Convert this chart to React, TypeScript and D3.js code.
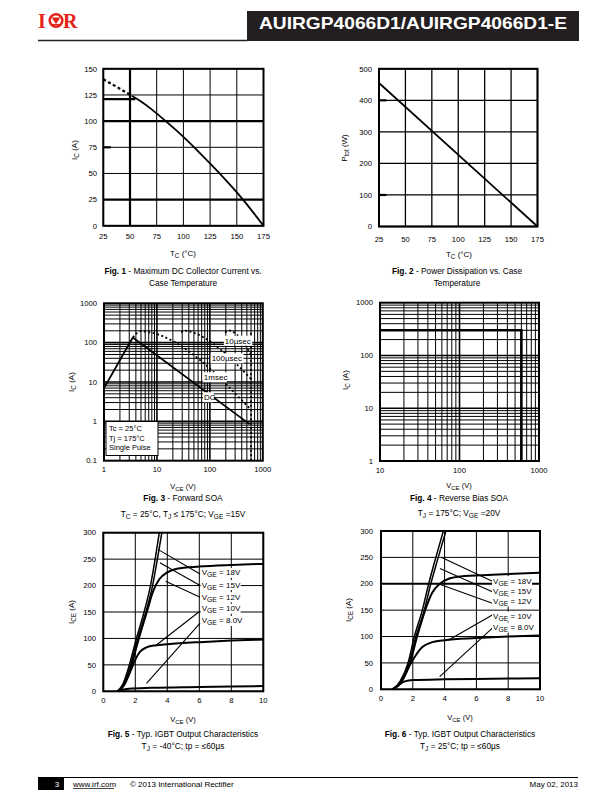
import React from "react";
import * as d3 from "d3";

const FONT = "'Liberation Sans', Arial, Helvetica, sans-serif";
const RED = "#e3241b";

// ---------------- Fig 1 data ----------------
const fig1XTicks = [25, 50, 75, 100, 125, 150, 175];
const fig1YTicks = [0, 25, 50, 75, 100, 125, 150];
const fig1ThickX = [50];
const fig1ThickY = [25, 100];
const fig1DashT = [25, 38, 52];
const fig1DashI = [140, 132.5, 124];
const fig1SolidT = [52, 60, 70, 84, 100, 115, 133, 155, 175];
const fig1SolidI = [124, 119, 111.5, 99.5, 85, 70, 51, 26, 0];
const fig1LimitT = [25, 55];
const fig1LimitI = [121, 121];
const fig1StubT = [25, 32];
const fig1StubI = [75, 75];

// ---------------- Fig 2 data ----------------
const fig2XTicks = [25, 50, 75, 100, 125, 150, 175];
const fig2YTicks = [0, 100, 200, 300, 400, 500];
const fig2T = [25, 175];
const fig2P = [455, 0];
const fig2StubT = [25, 32];
const fig2StubP = [400, 100];

// ---------------- Fig 3 data ----------------
const fig3XTickVals = [1, 10, 100, 1000];
const fig3XTickLabels = ["1", "10", "100", "1000"];
const fig3YTickVals = [0.1, 1, 10, 100, 1000];
const fig3YTickLabels = ["0.1", "1", "10", "100", "1000"];
const fig3RiseV = [1, 3.5];
const fig3RiseI = [7, 135];
const fig3DcV = [3.5, 560];
const fig3DcI = [135, 0.85];
const fig3Ms1V = [3.5, 4.2, 5, 6.5, 600];
const fig3Ms1I = [135, 175, 196, 188, 1.95];
const fig3Us100V = [29, 33, 38, 600];
const fig3Us100I = [180, 205, 198, 12];
const fig3Us10V = [195, 225, 260, 600];
const fig3Us10I = [180, 205, 195, 50];
const fig3EdgeV = [600, 600];
const fig3EdgeI = [0.1, 200];
const fig3Labels = ["10µsec", "100µsec", "1msec", "DC"];
const fig3LabelV = [192, 108, 77, 77.5];
const fig3LabelI = [112, 40, 13.2, 4.1];
const fig3Legend = ["Tc = 25°C", "Tj = 175°C", "Single Pulse"];

// ---------------- Fig 4 data ----------------
const fig4XTickVals = [10, 100, 1000];
const fig4XTickLabels = ["10", "100", "1000"];
const fig4YTickVals = [1, 10, 100, 1000];
const fig4YTickLabels = ["1", "10", "100", "1000"];
const fig4V = [10, 600, 600];
const fig4I = [300, 300, 1];

// ---------------- Fig 5 data ----------------
const outXTicks = [0, 2, 4, 6, 8, 10];
const outYTicks = [0, 50, 100, 150, 200, 250, 300];
const vgeLabels = ["18V", "15V", "12V", "10V", "8.0V"];

const fig5V18 = [0.85, 1.2, 1.58, 2.07, 2.55, 2.95, 3.24, 3.5];
const fig5I18 = [0, 12, 45, 100, 150, 200, 250, 300];
const fig5V15 = [0.87, 1.25, 1.66, 2.16, 2.66, 3.08, 3.38, 3.66];
const fig5I15 = [0, 12, 45, 100, 150, 200, 250, 300];
const fig5V12 = [0.9, 1.3, 1.72, 2.22, 2.72, 3.12, 3.5, 4.0, 4.6, 6, 8, 10];
const fig5I12 = [0, 12, 45, 100, 150, 190, 212, 225, 232, 236, 239, 241];
const fig5V10 = [0.9, 1.3, 1.7, 2.0, 2.3, 2.7, 3.3, 4, 6, 8, 10];
const fig5I10 = [0, 12, 38, 60, 75, 83, 87, 89, 93, 96, 98];
const fig5V8 = [0.95, 1.2, 1.6, 3, 6, 10];
const fig5I8 = [0, 3, 5, 6.5, 8, 10];
const fig5LeadV0 = [3.44, 3.54, 3.9, 3.3, 2.7];
const fig5LeadI0 = [268, 243, 208, 87, 15];
const fig5LeadV1 = [6.05, 6.05, 6.05, 6.05, 6.05];
const fig5LeadI1 = [222, 200, 178, 152, 129];
const fig5LabelV = [6.15, 6.15, 6.15, 6.15, 6.15];
const fig5LabelI = [224, 201, 178, 156, 133];

// ---------------- Fig 6 data ----------------
const fig6V18 = [0.75, 1.2, 1.7, 2.1, 2.6, 3.0, 3.45, 3.92];
const fig6I18 = [0, 15, 50, 100, 150, 200, 250, 300];
const fig6V15 = [0.77, 1.25, 1.77, 2.2, 2.72, 3.13, 3.6, 4.08];
const fig6I15 = [0, 15, 50, 100, 150, 200, 250, 300];
const fig6V12 = [0.8, 1.3, 1.82, 2.27, 2.78, 3.2, 3.7, 4.3, 5, 7, 10];
const fig6I12 = [0, 15, 50, 100, 150, 182, 200, 210, 214, 217, 221];
const fig6V10 = [0.8, 1.3, 1.8, 2.2, 2.6, 3.1, 4, 6, 8, 10];
const fig6I10 = [0, 15, 45, 65, 80, 88, 93, 97, 100, 102];
const fig6V8 = [0.7, 1.1, 1.5, 2, 4, 7, 10];
const fig6I8 = [0, 8, 15, 17.5, 19, 20, 21];
const fig6ThickY = [200];
const fig6LeadV0 = [3.82, 3.71, 3.6, 4.23, 3.69];
const fig6LeadI0 = [250, 229, 200, 93, 24];
const fig6LeadV1 = [7.0, 7.0, 7.0, 7.0, 7.0];
const fig6LeadI1 = [205, 185, 163, 141, 116];
const fig6LabelV = [7.05, 7.05, 7.05, 7.05, 7.05];
const fig6LabelI = [205, 186, 166, 138, 117];

const curveWidths = [1.5, 1.5, 2, 2, 2];

const zip = (a: number[], b: number[]) => a.map((v, i) => [v, b[i]] as [number, number]);

type Sc = (v: number) => number;

function pathOf(xs: number[], ys: number[], x: Sc, y: Sc, curve: any = d3.curveLinear) {
  return d3
    .line<[number, number]>()
    .x((d) => x(d[0]))
    .y((d) => y(d[1]))
    .curve(curve)(zip(xs, ys)) as string;
}

function SubText(props: {
  x: number; y: number; base: string; sub: string; rest: string;
  size?: number; anchor?: string; rotate?: boolean;
}) {
  const size = props.size ?? 8;
  const tr = props.rotate ? `rotate(-90 ${props.x} ${props.y})` : undefined;
  return (
    <text x={props.x} y={props.y} fontSize={size} fontFamily={FONT}
      textAnchor={props.anchor ?? "middle"} transform={tr} fill="#000">
      {props.base}
      <tspan dy={size * 0.3} fontSize={size * 0.8}>{props.sub}</tspan>
      <tspan dy={-size * 0.3}>{props.rest}</tspan>
    </text>
  );
}

function Caption({ cx, y, bold, text }: { cx: number; y: number; bold?: string; text: string }) {
  return (
    <text x={cx} y={y} fontSize={8.3} fontFamily={FONT} textAnchor="middle">
      {bold ? <tspan fontWeight="bold">{bold}</tspan> : null}
      {text}
    </text>
  );
}

function LinearGrid({ x, y, xTicks, yTicks, thickX = [], thickY = [], gw = 1 }: any) {
  const [x0, x1] = x.range();
  const [y0, y1] = y.range();
  return (
    <g>
      {xTicks.map((t: number) => (
        <line key={"vx" + t} x1={x(t)} x2={x(t)} y1={y0} y2={y1} stroke="#000"
          strokeWidth={thickX.includes(t) ? 2.2 : gw} />
      ))}
      {yTicks.map((t: number) => (
        <line key={"hy" + t} x1={x0} x2={x1} y1={y(t)} y2={y(t)} stroke="#000"
          strokeWidth={thickY.includes(t) ? 2.2 : gw} />
      ))}
    </g>
  );
}

function Border({ x, y }: any) {
  const [x0, x1] = x.range();
  const [y0, y1] = y.range();
  return <rect x={x0} y={y1} width={x1 - x0} height={y0 - y1} fill="none" stroke="#000" strokeWidth={2} />;
}

function LinearTicks({ x, y, xTicks, yTicks, xLabY, yLabX }: any) {
  return (
    <g fontFamily={FONT} fontSize={7.7}>
      {xTicks.map((t: number) => (
        <text key={"xl" + t} x={x(t)} y={xLabY} textAnchor="middle">{t}</text>
      ))}
      {yTicks.map((t: number) => (
        <text key={"yl" + t} x={yLabX} y={y(t) + 2.7} textAnchor="end">{t}</text>
      ))}
    </g>
  );
}

function LogGrid({ x, y }: any) {
  const [x0, x1] = x.range();
  const [y0, y1] = y.range();
  const xd = x.domain();
  const yd = y.domain();
  const lines: any[] = [];
  for (let d = xd[0]; d < xd[1] - 1e-9; d *= 10) {
    for (let m = 1; m <= 9; m++) {
      const v = d * m;
      if (v <= xd[0] || v >= xd[1]) continue;
      lines.push(<line key={"lx" + v} x1={x(v)} x2={x(v)} y1={y0} y2={y1} stroke="#000" strokeWidth={m === 1 ? 1.6 : 1} />);
    }
  }
  for (let d = yd[0]; d < yd[1] - 1e-9; d *= 10) {
    for (let m = 1; m <= 9; m++) {
      const v = d * m;
      if (v <= yd[0] * 1.0001 || v >= yd[1] * 0.9999) continue;
      lines.push(<line key={"ly" + v} x1={x0} x2={x1} y1={y(v)} y2={y(v)} stroke="#000" strokeWidth={m === 1 ? 1.6 : 1} />);
    }
  }
  return <g>{lines}</g>;
}

function VgeLabel({ x, y, val }: { x: number; y: number; val: string }) {
  const w = 40;
  return (
    <g>
      <rect x={x - 1} y={y - 5} width={w} height={10} fill="#fff" />
      <text x={x} y={y + 2.5} fontSize={8} fontFamily={FONT}>
        V<tspan dy={2} fontSize={6.8}>GE</tspan>
        <tspan dy={-2}>{" = " + val}</tspan>
      </text>
    </g>
  );
}

function OutputChart(props: any) {
  const { x, y, curves, leadV0, leadI0, leadV1, leadI1, labV, labI, thickY = [] } = props;
  return (
    <g>
      <LinearGrid x={x} y={y} xTicks={outXTicks} yTicks={outYTicks} thickY={thickY} />
      {curves.map((c: any, i: number) => (
        <path key={"c" + i} d={pathOf(c[0], c[1], x, y, d3.curveMonotoneX)} fill="none" stroke="#000"
          strokeWidth={curveWidths[i]} />
      ))}
      {leadV0.map((v: number, i: number) => (
        <line key={"ld" + i} x1={x(v)} y1={y(leadI0[i])} x2={x(leadV1[i])} y2={y(leadI1[i])} stroke="#000" strokeWidth={1.1} />
      ))}
      {labV.map((v: number, i: number) => (
        <VgeLabel key={"lb" + i} x={x(v)} y={y(labI[i])} val={vgeLabels[i]} />
      ))}
      <Border x={x} y={y} />
    </g>
  );
}

export default function App() {
  const x1 = d3.scaleLinear().domain([25, 175]).range([103.3, 263.5]);
  const y1 = d3.scaleLinear().domain([0, 150]).range([225.8, 68.8]);
  const x2 = d3.scaleLinear().domain([25, 175]).range([379, 537.5]);
  const y2 = d3.scaleLinear().domain([0, 500]).range([226.5, 68.8]);
  const x3 = d3.scaleLog().domain([1, 1000]).range([104, 262.8]);
  const y3 = d3.scaleLog().domain([0.1, 1000]).range([460.7, 303.3]);
  const x4 = d3.scaleLog().domain([10, 1000]).range([380, 539]);
  const y4 = d3.scaleLog().domain([1, 1000]).range([461, 302.7]);
  const x5 = d3.scaleLinear().domain([0, 10]).range([103.3, 263.3]);
  const y5 = d3.scaleLinear().domain([0, 300]).range([691.3, 532.7]);
  const x6 = d3.scaleLinear().domain([0, 10]).range([381, 540]);
  const y6 = d3.scaleLinear().domain([0, 300]).range([689.3, 531]);

  const dotted = { fill: "none", stroke: "#000", strokeWidth: 1.8, strokeDasharray: "2 2.5" };

  return (
    <svg width={612} height={792} style={{ position: "absolute", left: 0, top: 0, background: "#fff" }}
      xmlns="http://www.w3.org/2000/svg">
      <rect width={612} height={792} fill="#fff" />

      {/* Header */}
      <g>
        <text x={38} y={28} fontFamily="'Liberation Serif', 'DejaVu Serif', serif" fontWeight="bold" fontSize={20} fill={RED}>I</text>
        <circle cx={56} cy={20.5} r={6.3} fill="none" stroke={RED} strokeWidth={2.6} />
        <path d="M51.5 17.5 L60.5 17.5 L56 24 Z" fill={RED} />
        <line x1={51.5} x2={60.5} y1={24.5} y2={24.5} stroke={RED} strokeWidth={1.2} />
        <text x={63} y={28} fontFamily="'Liberation Serif', 'DejaVu Serif', serif" fontWeight="bold" fontSize={20} fill={RED}>R</text>
        <line x1={38} x2={247} y1={40.5} y2={40.5} stroke="#222" strokeWidth={1.6} />
        <rect x={247} y={11} width={332} height={30} fill="#231f20" />
        <text x={413} y={29} fill="#fff" fontFamily={FONT} fontWeight="bold" fontSize={17} textAnchor="middle"
          textLength={308} lengthAdjust="spacingAndGlyphs">AUIRGP4066D1/AUIRGP4066D1-E</text>
      </g>

      {/* ---------- Fig 1 ---------- */}
      <g>
        <LinearGrid x={x1} y={y1} xTicks={fig1XTicks} yTicks={fig1YTicks} thickX={fig1ThickX} thickY={fig1ThickY} />
        <path d={pathOf(fig1LimitT, fig1LimitI, x1, y1)} fill="none" stroke="#000" strokeWidth={2.2} />
        <path d={pathOf(fig1StubT, fig1StubI, x1, y1)} fill="none" stroke="#000" strokeWidth={2.2} />
        <path d={pathOf(fig1DashT, fig1DashI, x1, y1)} fill="none" stroke="#000" strokeWidth={2.2} strokeDasharray="3 2.5" />
        <path d={pathOf(fig1SolidT, fig1SolidI, x1, y1, d3.curveMonotoneX)} fill="none" stroke="#000" strokeWidth={1.8} />
        <Border x={x1} y={y1} />
        <LinearTicks x={x1} y={y1} xTicks={fig1XTicks} yTicks={fig1YTicks} xLabY={239} yLabX={97} />
        <SubText x={77} y={150} base="I" sub="C" rest=" (A)" rotate size={8} />
        <SubText x={183} y={256} base="T" sub="C" rest=" (°C)" size={8} />
        <Caption cx={183} y={274} bold="Fig. 1" text=" - Maximum DC Collector Current vs." />
        <Caption cx={183} y={286} text="Case Temperature" />
      </g>

      {/* ---------- Fig 2 ---------- */}
      <g>
        <LinearGrid x={x2} y={y2} xTicks={fig2XTicks} yTicks={fig2YTicks} gw={1.3} />
        {fig2StubP.map((p) => (
          <path key={"s" + p} d={pathOf(fig2StubT, [p, p], x2, y2)} fill="none" stroke="#000" strokeWidth={2.2} />
        ))}
        <path d={pathOf(fig2T, fig2P, x2, y2)} fill="none" stroke="#000" strokeWidth={1.8} />
        <Border x={x2} y={y2} />
        <LinearTicks x={x2} y={y2} xTicks={fig2XTicks} yTicks={fig2YTicks} xLabY={242} yLabX={372} />
        <SubText x={347} y={148} base="P" sub="tot" rest=" (W)" rotate size={8} />
        <SubText x={459} y={257} base="T" sub="C" rest=" (°C)" size={8} />
        <Caption cx={457} y={274} bold="Fig. 2" text=" - Power  Dissipation vs. Case" />
        <Caption cx={457} y={286} text="Temperature" />
      </g>

      {/* ---------- Fig 3 ---------- */}
      <g>
        <LogGrid x={x3} y={y3} />
        <path d={pathOf(fig3RiseV, fig3RiseI, x3, y3)} fill="none" stroke="#000" strokeWidth={1.8} />
        <path d={pathOf(fig3DcV, fig3DcI, x3, y3)} fill="none" stroke="#000" strokeWidth={1.8} />
        <path d={pathOf(fig3Ms1V, fig3Ms1I, x3, y3, d3.curveMonotoneX)} {...dotted} />
        <path d={pathOf(fig3Us100V, fig3Us100I, x3, y3, d3.curveMonotoneX)} {...dotted} />
        <path d={pathOf(fig3Us10V, fig3Us10I, x3, y3, d3.curveMonotoneX)} {...dotted} />
        <path d={pathOf(fig3EdgeV, fig3EdgeI, x3, y3)} {...dotted} />
        {fig3Labels.map((l, i) => {
          const w = l.length * 4.4 + 2;
          return (
            <g key={l}>
              <rect x={x3(fig3LabelV[i]) - 1} y={y3(fig3LabelI[i]) - 5} width={w} height={10} fill="#fff" />
              <text x={x3(fig3LabelV[i])} y={y3(fig3LabelI[i]) + 3} fontSize={8} fontFamily={FONT}>{l}</text>
            </g>
          );
        })}
        <rect x={106} y={421.5} width={52} height={34} fill="#fff" stroke="#000" strokeWidth={1} />
        {fig3Legend.map((l, i) => (
          <text key={l} x={109} y={431 + i * 9.5} fontSize={7.5} fontFamily={FONT}>{l}</text>
        ))}
        <rect x={104} y={303.3} width={158.8} height={157.4} fill="none" stroke="#000" strokeWidth={2} />
        <g fontFamily={FONT} fontSize={7.7}>
          {fig3XTickVals.map((v, i) => (
            <text key={"x" + v} x={x3(v)} y={472} textAnchor="middle">{fig3XTickLabels[i]}</text>
          ))}
          {fig3YTickVals.map((v, i) => (
            <text key={"y" + v} x={97} y={y3(v) + 2.7} textAnchor="end">{fig3YTickLabels[i]}</text>
          ))}
        </g>
        <SubText x={74} y={382} base="I" sub="C" rest=" (A)" rotate size={8} />
        <SubText x={183} y={489} base="V" sub="CE" rest=" (V)" size={7.5} />
        <Caption cx={183} y={501} bold="Fig. 3" text=" - Forward SOA" />
        <text x={183} y={517} fontSize={8.3} fontFamily={FONT} textAnchor="middle">
          T<tspan dy={2} fontSize={6.6}>C</tspan><tspan dy={-2}>{" = 25°C, T"}</tspan>
          <tspan dy={2} fontSize={6.6}>J</tspan><tspan dy={-2}>{" ≤ 175°C; V"}</tspan>
          <tspan dy={2} fontSize={6.6}>GE</tspan><tspan dy={-2}>{" =15V"}</tspan>
        </text>
      </g>

      {/* ---------- Fig 4 ---------- */}
      <g>
        <LogGrid x={x4} y={y4} />
        <path d={pathOf(fig4V, fig4I, x4, y4)} fill="none" stroke="#000" strokeWidth={2.6} />
        <rect x={380} y={302.7} width={159} height={158.3} fill="none" stroke="#000" strokeWidth={2} />
        <g fontFamily={FONT} fontSize={7.7}>
          {fig4XTickVals.map((v, i) => (
            <text key={"x" + v} x={x4(v)} y={473} textAnchor="middle">{fig4XTickLabels[i]}</text>
          ))}
          {fig4YTickVals.map((v, i) => (
            <text key={"y" + v} x={373} y={y4(v) + 2.7} textAnchor="end">{fig4YTickLabels[i]}</text>
          ))}
        </g>
        <SubText x={348} y={380} base="I" sub="C" rest=" (A)" rotate size={8} />
        <SubText x={459} y={488} base="V" sub="CE" rest=" (V)" size={7.5} />
        <Caption cx={459} y={501} bold="Fig. 4" text=" - Reverse Bias SOA" />
        <text x={459} y={516} fontSize={8.3} fontFamily={FONT} textAnchor="middle">
          T<tspan dy={2} fontSize={6.6}>J</tspan><tspan dy={-2}>{" = 175°C; V"}</tspan>
          <tspan dy={2} fontSize={6.6}>GE</tspan><tspan dy={-2}>{" =20V"}</tspan>
        </text>
      </g>

      {/* ---------- Fig 5 ---------- */}
      <g>
        <OutputChart x={x5} y={y5}
          curves={[[fig5V18, fig5I18], [fig5V15, fig5I15], [fig5V12, fig5I12], [fig5V10, fig5I10], [fig5V8, fig5I8]]}
          leadV0={fig5LeadV0} leadI0={fig5LeadI0} leadV1={fig5LeadV1} leadI1={fig5LeadI1}
          labV={fig5LabelV} labI={fig5LabelI} />
        <LinearTicks x={x5} y={y5} xTicks={outXTicks} yTicks={outYTicks} xLabY={703} yLabX={96} />
        <SubText x={74} y={612} base="I" sub="CE" rest=" (A)" rotate size={8} />
        <SubText x={183} y={722} base="V" sub="CE" rest=" (V)" size={7.5} />
        <Caption cx={183} y={737} bold="Fig. 5" text=" - Typ. IGBT Output Characteristics" />
        <text x={183} y={749} fontSize={8.3} fontFamily={FONT} textAnchor="middle">
          T<tspan dy={2} fontSize={6.6}>J</tspan><tspan dy={-2}>{" = -40°C; tp = ≤60µs"}</tspan>
        </text>
      </g>

      {/* ---------- Fig 6 ---------- */}
      <g>
        <OutputChart x={x6} y={y6}
          curves={[[fig6V18, fig6I18], [fig6V15, fig6I15], [fig6V12, fig6I12], [fig6V10, fig6I10], [fig6V8, fig6I8]]}
          leadV0={fig6LeadV0} leadI0={fig6LeadI0} leadV1={fig6LeadV1} leadI1={fig6LeadI1}
          labV={fig6LabelV} labI={fig6LabelI} thickY={fig6ThickY} />
        <LinearTicks x={x6} y={y6} xTicks={outXTicks} yTicks={outYTicks} xLabY={701} yLabX={373} />
        <SubText x={351} y={610} base="I" sub="CE" rest=" (A)" rotate size={8} />
        <SubText x={460} y={720} base="V" sub="CE" rest=" (V)" size={7.5} />
        <Caption cx={460} y={737} bold="Fig. 6" text=" - Typ. IGBT Output Characteristics" />
        <text x={460} y={749} fontSize={8.3} fontFamily={FONT} textAnchor="middle">
          T<tspan dy={2} fontSize={6.6}>J</tspan><tspan dy={-2}>{" = 25°C;  tp = ≤60µs"}</tspan>
        </text>
      </g>

      {/* Footer */}
      <g fontFamily={FONT} fontSize={8}>
        <line x1={38} x2={578} y1={777.5} y2={777.5} stroke="#000" strokeWidth={1} />
        <rect x={38} y={777} width={26} height={13} fill="#000" />
        <text x={57} y={787} fill="#fff" textAnchor="middle">3</text>
        <text x={73} y={787}>www.irf.com</text>
        <line x1={73} x2={114} y1={788.5} y2={788.5} stroke="#000" strokeWidth={0.7} />
        <text x={130} y={787}>© 2013 International Rectifier</text>
        <text x={578} y={787} textAnchor="end">May 02, 2013</text>
      </g>
    </svg>
  );
}
